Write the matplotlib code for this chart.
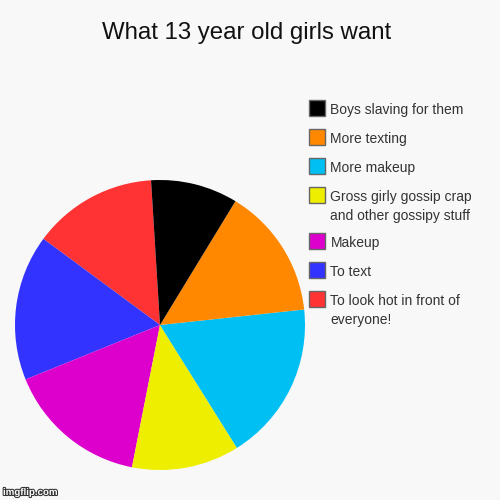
#!/usr/bin/env python3

import matplotlib
matplotlib.use('Agg')
import matplotlib.pyplot as plt
import matplotlib.patheffects as pe
from matplotlib.patches import Rectangle

plt.rcParams['font.family'] = ['Liberation Sans', 'DejaVu Sans']

title = 'What 13 year old girls want'
labels = ['To look hot in front of\neveryone!', 'To text', 'Makeup',
          'Gross girly gossip crap\nand other gossipy stuff', 'More makeup',
          'More texting', 'Boys slaving for them']
values = [50.0, 58.5, 56.8, 43.2, 64.1, 52.5, 34.9]
colors = ['#ff3333', '#3333ff', '#dd00cc', '#eeee00', '#00bff3',
          '#ff8800', '#000000']

bg = '#f8f8f8'
fig = plt.figure(figsize=(5, 5), dpi=100, facecolor=bg)

# pie, centre at (160, 325) px, radius 145 px
ax = fig.add_axes([0.03, 0.06, 0.58, 0.58])
ax.set_facecolor(bg)
ax.pie(values, colors=colors, startangle=93.55, counterclock=True,
       radius=1, wedgeprops=dict(linewidth=0))
ax.set_xlim(-1, 1)
ax.set_ylim(-1, 1)
ax.set_aspect('equal')
ax.axis('off')

fig.text(0.494, 1 - 38.5 / 500, title, ha='center', va='baseline',
         fontsize=17.3, color='#111111')

# legend, drawn top to bottom in reverse data order
W, H = 500.0, 500.0
top = 100.0
for label, color in zip(labels[::-1], colors[::-1]):
    fig.patches.append(Rectangle((309 / W, 1 - (top + 16) / H), 16 / W, 16 / H,
                                 transform=fig.transFigure, facecolor=color,
                                 edgecolor='#666666', linewidth=1))
    fig.text(330.5 / W, 1 - (top + 3) / H, label, ha='left', va='top',
             fontsize=10, color='#333333', linespacing=1.42)
    top += 29 + 17 * label.count('\n')

fig.text(3 / W, 1 - 495 / H, 'imgflip.com', ha='left', va='baseline',
         fontsize=7, fontweight='bold', color='white',
         path_effects=[pe.withStroke(linewidth=1.5, foreground='#333333')])

fig.savefig('out.png', dpi=100, facecolor=bg)
